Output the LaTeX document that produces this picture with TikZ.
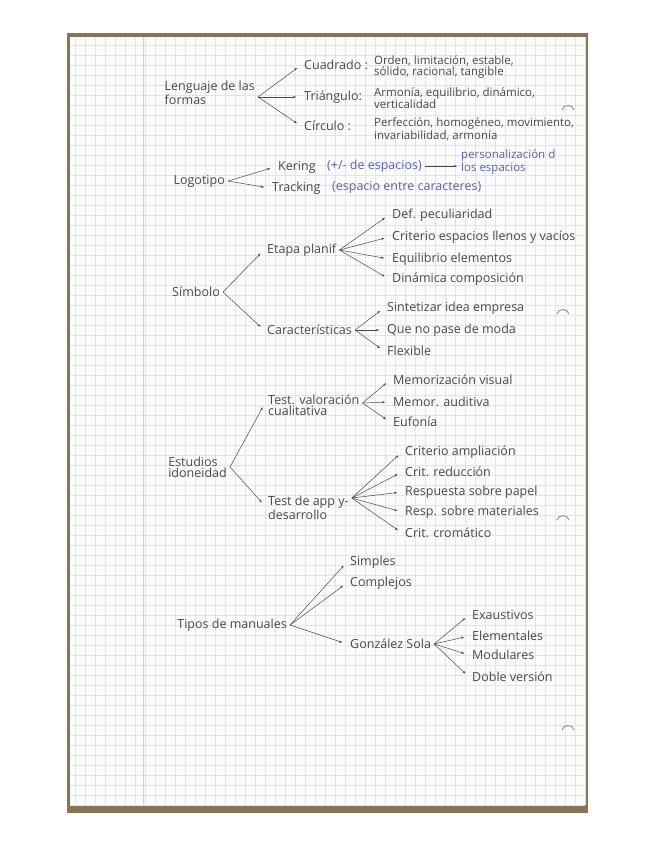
\documentclass[tikz,border=0pt]{standalone}
\usepackage{fontspec}
\setmainfont{Open Sans}
\usepackage{xcolor}
\usepackage{tikz}
\usetikzlibrary{arrows.meta, positioning}
\definecolor{inkgray}{RGB}{78, 70, 72}
\definecolor{penblue}{RGB}{96, 94, 172}
\definecolor{gridblue}{RGB}{224, 228, 237}
\definecolor{marginblue}{RGB}{205, 205, 232}
\definecolor{boardbrown}{RGB}{138, 116, 86}
\definecolor{paperwhite}{RGB}{251, 252, 254}
\definecolor{holegray}{RGB}{140, 140, 146}

\begin{document}
\begin{tikzpicture}[x=1pt, y=-1pt,
  note/.style={inkgray, font=\fontsize{12.5}{11}\selectfont, inner ysep=1pt, align=left},
  smallnote/.style={note, font=\fontsize{11.5}{10.5}\selectfont, anchor=west, inner xsep=3pt},
  leaf/.style={note, anchor=west, inner xsep=3pt},
  root/.style={note, anchor=east, inner xsep=3pt},
  bluenote/.style={leaf, penblue},
  link/.style={inkgray, line width=0.5pt, shorten >=5pt, -{Stealth[length=3pt, width=2.4pt]}}]
  \useasboundingbox (0,0) rectangle (655,848);

  % Board and squared paper
  \fill[boardbrown] (67,33) rectangle (588,813);
  \fill[paperwhite] (70,37) rectangle (585,805);
  \foreach \gx in {75,85,...,585}
    \draw[gridblue, line width=0.5pt] (\gx,37) -- (\gx,805);
  \foreach \gy in {45,55,...,805}
    \draw[gridblue, line width=0.5pt] (70,\gy) -- (585,\gy);
  \draw[marginblue, line width=0.8pt] (143,37) -- (143,805);
  \foreach \hy/\hx in {108/568, 312/563, 518/563, 728/568}
    \draw[holegray, line width=0.9pt]
      (\hx-6,\hy+2) .. controls (\hx-5,\hy-4) and (\hx+5,\hy-4) .. (\hx+6,\hy+2);

  % Lenguaje de las formas
  \node[root] (formas) at (258,93) {Lenguaje de las\\formas};
  \node[leaf] (cuadrado) at (301,65) {Cuadrado :};
  \node[smallnote] (cuadradodef) at (371,67) {Orden, limitación, estable,\\sólido, racional, tangible};
  \node[leaf] (triangulo) at (301,97) {Triángulo:};
  \node[smallnote] (triangulodef) at (371,98) {Armonía, equilibrio, dinámico,\\verticalidad};
  \node[leaf] (circulo) at (301,126) {Círculo :};
  \node[smallnote] (circulodef) at (371,129.5) {Perfección, homogéneo, movimiento,\\invariabilidad, armonía};
  \foreach \n in {cuadrado, triangulo, circulo}
    \draw[link] ([yshift=-4pt]formas.east) -- (\n.west);

  % Logotipo
  \node[root] (logotipo) at (228,181) {Logotipo};
  \node[leaf] (kering) at (275,167) {Kering};
  \node[bluenote] (keringnote) at (324,166) {(+/- de espacios)};
  \node[smallnote, penblue] (espacios) at (458,162) {personalización d\\los espacios};
  \node[leaf] (tracking) at (269,188) {Tracking};
  \node[bluenote] (trackingnote) at (329,187) {(espacio entre caracteres)};
  \foreach \n in {kering, tracking}
    \draw[link] (logotipo.east) -- (\n.west);
  \draw[link, shorten >=1pt] (keringnote.east) -- (espacios.west |- keringnote.east);

  % Simbolo
  \node[root] (simbolo) at (223,292) {Símbolo};
  \node[leaf] (etapa) at (264,250) {Etapa planif};
  \node[leaf] (rasgos) at (264,330) {Características};
  \foreach \n in {etapa, rasgos}
    \draw[link] (simbolo.east) -- (\n.west);
  \node[leaf] (peculiar) at (389,215) {Def. peculiaridad};
  \node[leaf] (llenos) at (389,237) {Criterio espacios llenos y vacíos};
  \node[leaf] (equilibrio) at (389,259) {Equilibrio elementos};
  \node[leaf] (dinamica) at (389,279) {Dinámica composición};
  \foreach \n in {peculiar, llenos, equilibrio, dinamica}
    \draw[link] (etapa.east) -- (\n.west);
  \node[leaf] (sintetizar) at (384,308) {Sintetizar idea empresa};
  \node[leaf] (moda) at (384,330) {Que no pase de moda};
  \node[leaf] (flexible) at (384,351) {Flexible};
  \foreach \n in {sintetizar, moda, flexible}
    \draw[link] (rasgos.east) -- (\n.west);

  % Estudios idoneidad
  \node[root] (estudios) at (230,467) {Estudios\\idoneidad};
  \node[leaf] (valoracion) at (265,405) {Test. valoración\\cualitativa};
  \node[leaf] (app) at (265,508) {Test de app y-\\desarrollo};
  \coordinate (appfork) at ([yshift=10pt]app.east);
  \coordinate (valfork) at ([yshift=2pt]valoracion.east);
  \draw[link] (estudios.east) -- ([yshift=2pt]valoracion.west);
  \draw[link] (estudios.east) -- ([yshift=2pt]app.west);
  \node[leaf] (visual) at (390,380) {Memorización visual};
  \node[leaf] (auditiva) at (390,402) {Memor. auditiva};
  \node[leaf] (eufonia) at (390,422) {Eufonía};
  \foreach \n in {visual, auditiva, eufonia}
    \draw[link] (valfork) -- (\n.west);
  \node[leaf] (ampliacion) at (402,452) {Criterio ampliación};
  \node[leaf] (reduccion) at (402,472) {Crit. reducción};
  \node[leaf] (papel) at (402,492) {Respuesta sobre papel};
  \node[leaf] (materiales) at (402,512) {Resp. sobre materiales};
  \node[leaf] (cromatico) at (402,533) {Crit. cromático};
  \foreach \n in {ampliacion, reduccion, papel, materiales, cromatico}
    \draw[link] (appfork) -- (\n.west);

  % Tipos de manuales
  \node[root] (tipos) at (290,625) {Tipos de manuales};
  \node[leaf] (simples) at (347,562) {Simples};
  \node[leaf] (complejos) at (347,583) {Complejos};
  \node[leaf] (gonzalez) at (347,644) {González Sola};
  \foreach \n in {simples, complejos, gonzalez}
    \draw[link] (tipos.east) -- (\n.west);
  \node[leaf] (exaustivos) at (469,615) {Exaustivos};
  \node[leaf] (elementales) at (469,636) {Elementales};
  \node[leaf] (modulares) at (469,655) {Modulares};
  \node[leaf] (doble) at (469,677) {Doble versión};
  \foreach \n in {exaustivos, elementales, modulares, doble}
    \draw[link] (gonzalez.east) -- (\n.west);
\end{tikzpicture}
\end{document}
